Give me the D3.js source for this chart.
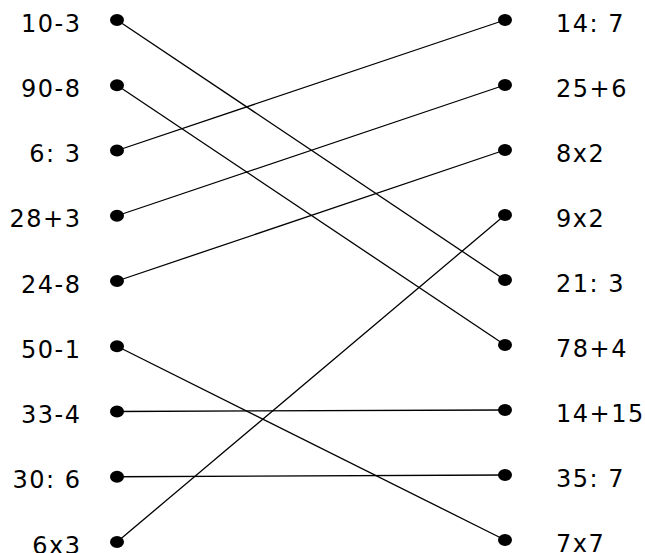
<!DOCTYPE html>
<html>
<head>
<meta charset="utf-8">
<script src="https://cdn.jsdelivr.net/npm/d3@7"></script>
<style>
  html, body { margin: 0; padding: 0; background: #fff; }
  svg { display: block; }
</style>
</head>
<body>
<svg id="chart" width="645" height="553"></svg>
<script>
// Matching exercise: left expressions joined to their results on the right
const leftLabels = ["10-3", "90-8", "6: 3", "28+3", "24-8", "50-1", "33-4", "30: 6", "6x3"];
const rightLabels = ["14: 7", "25+6", "8x2", "9x2", "21: 3", "78+4", "14+15", "35: 7", "7x7"];
// which right label each left label is connected to
const answers = ["21: 3", "78+4", "14: 7", "25+6", "8x2", "7x7", "14+15", "35: 7", "9x2"];

const width = 645;
const height = 553;
const svg = d3.select('#chart');

const colX = d3.scalePoint().domain(["left", "right"]).range([117, 505]);
const yLeft = d3.scalePoint().domain(leftLabels).range([20, 542]);
const yRight = d3.scalePoint().domain(rightLabels).range([20, 540]);

const links = leftLabels.map((l, i) => ({ source: l, target: answers[i] }));

// Lines
svg.append("g").selectAll("line")
    .data(links)
    .enter().append("line")
    .attr("x1", colX("left"))
    .attr("y1", d => yLeft(d.source))
    .attr("x2", colX("right"))
    .attr("y2", d => yRight(d.target))
    .attr("stroke", "#000")
    .attr("stroke-width", 1.3);

// Dots
const dotG = svg.append("g");
dotG.selectAll(".dot-left")
    .data(leftLabels)
    .enter().append("ellipse")
    .attr("class", "dot-left")
    .attr("cx", colX("left"))
    .attr("cy", d => yLeft(d))
    .attr("rx", 7)
    .attr("ry", 6)
    .attr("fill", "#000");

dotG.selectAll(".dot-right")
    .data(rightLabels)
    .enter().append("ellipse")
    .attr("class", "dot-right")
    .attr("cx", colX("right"))
    .attr("cy", d => yRight(d))
    .attr("rx", 7)
    .attr("ry", 6)
    .attr("fill", "#000");

// Labels
const font = "'DejaVu Sans', sans-serif";
svg.append("g").selectAll("text")
    .data(leftLabels)
    .enter().append("text")
    .attr("x", colX("left") - 35.5)
    .attr("y", d => yLeft(d))
    .attr("dy", "0.48em")
    .attr("text-anchor", "end")
    .attr("font-family", font)
    .attr("font-size", "24px")
    .attr("letter-spacing", "1.5px")
    .attr("fill", "#000")
    .text(d => d);

svg.append("g").selectAll("text")
    .data(rightLabels)
    .enter().append("text")
    .attr("x", colX("right") + 51)
    .attr("y", d => yRight(d))
    .attr("dy", "0.48em")
    .attr("text-anchor", "start")
    .attr("font-family", font)
    .attr("font-size", "24px")
    .attr("letter-spacing", "1.5px")
    .attr("fill", "#000")
    .text(d => d);
</script>
</body>
</html>
